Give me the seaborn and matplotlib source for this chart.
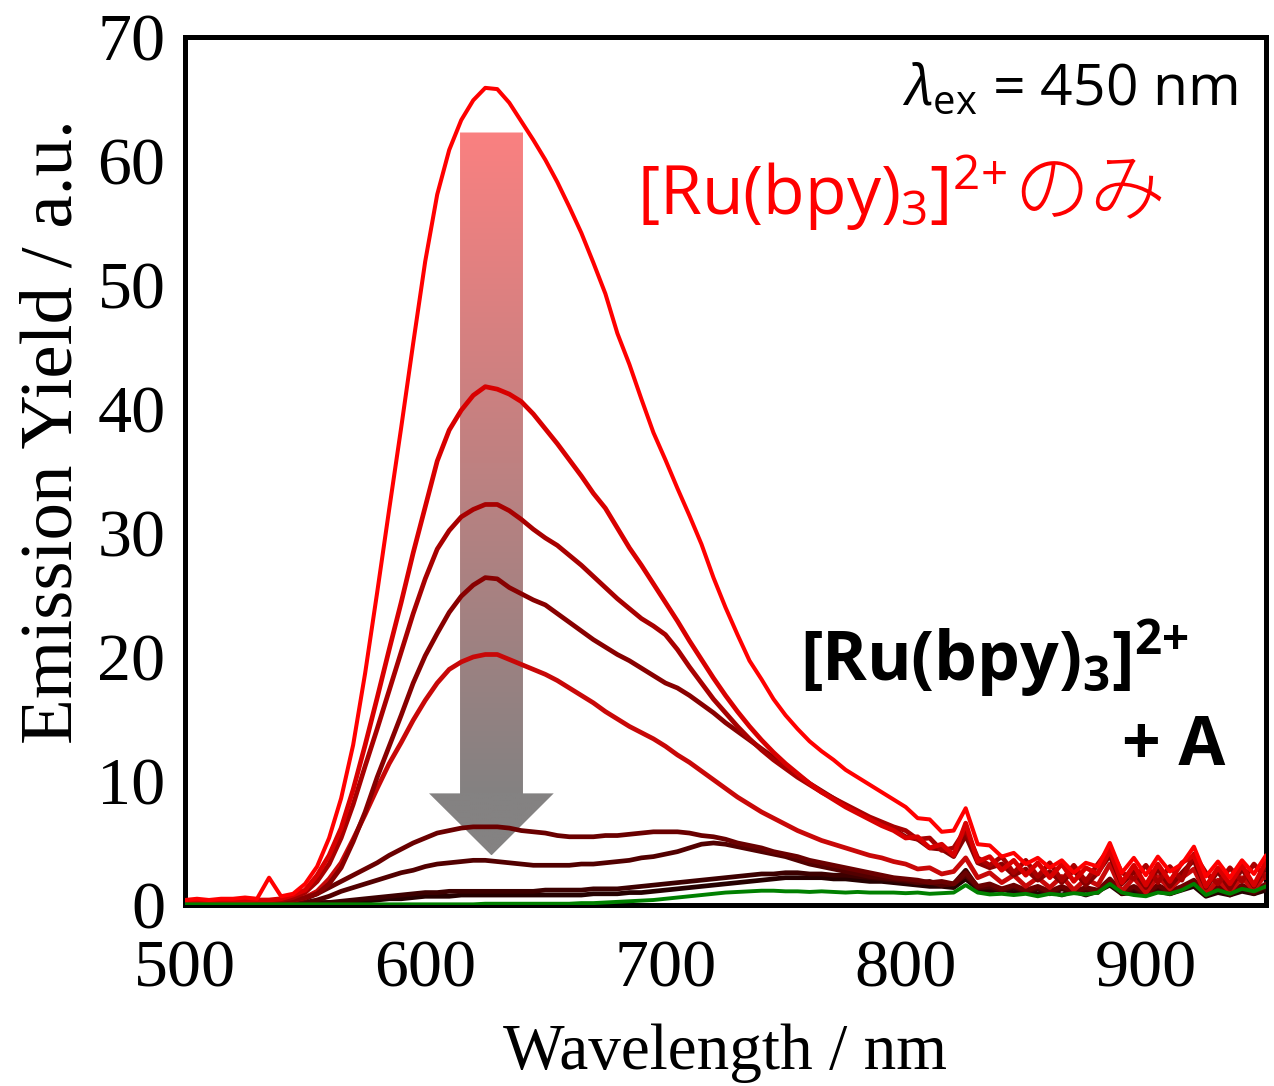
import numpy as np
import pandas as pd
import seaborn as sns
import matplotlib
matplotlib.use("Agg")
import matplotlib.pyplot as plt
from matplotlib.patches import Polygon
from matplotlib.ticker import MultipleLocator

# ---------------------------------------------------------------- data
# emission wavelength grid (nm), 5 nm steps
wavelength = list(range(500, 955, 5))

# [Ru(bpy)3]2+ alone
ru_only = [
    0.4, 0.5, 0.4, 0.5, 0.5, 0.6, 0.5, 2.2, 0.7, 0.9,
    1.7, 3.1, 5.4, 8.6, 12.9, 18.7, 25.2, 31.9, 38.5, 45.3,
    51.9, 57.3, 60.9, 63.3, 64.9, 65.9, 65.8, 64.7, 63.2, 61.7,
    60.1, 58.3, 56.3, 54.2, 51.8, 49.3, 46.1, 43.6, 40.8, 38.1,
    35.9, 33.6, 31.4, 29.1, 26.4, 24.0, 21.8, 19.7, 18.2, 16.6,
    15.3, 14.2, 13.2, 12.4, 11.7, 10.9, 10.3, 9.7, 9.1, 8.5,
    7.9, 7.0, 6.9, 5.9, 6.0, 7.8, 4.9, 4.8, 3.9, 4.2,
    3.3, 3.8, 3.0, 3.6, 2.6, 3.4, 3.1, 5.0, 2.6, 3.8,
    2.4, 3.9, 2.7, 3.3, 4.7, 2.3, 3.5, 2.2, 3.6, 2.5, 4.0,
]

# [Ru(bpy)3]2+ + A, increasing amounts of A
ru_a1 = [
    0.3, 0.3, 0.2, 0.3, 0.3, 0.3, 0.4, 0.4, 0.5, 0.8,
    1.2, 2.4, 4.0, 6.2, 9.3, 12.9, 16.7, 20.6, 24.4, 28.4,
    32.1, 35.8, 38.3, 39.9, 41.1, 41.8, 41.6, 41.2, 40.6, 39.6,
    38.4, 37.2, 35.9, 34.6, 33.2, 32.0, 30.4, 28.8, 27.4, 25.9,
    24.4, 22.9, 21.3, 19.8, 18.3, 16.9, 15.6, 14.4, 13.3, 12.3,
    11.4, 10.6, 9.8, 9.1, 8.5, 7.9, 7.4, 6.9, 6.4, 6.0,
    5.4, 5.5, 4.6, 4.9, 4.0, 6.6, 3.5, 3.9, 2.8, 3.6,
    2.4, 3.4, 2.2, 3.3, 1.9, 3.0, 2.5, 4.4, 1.8, 3.2,
    1.6, 3.3, 1.9, 3.4, 4.0, 1.5, 3.0, 1.7, 3.2, 1.6, 3.5,
]
ru_a2 = [
    0.2, 0.3, 0.2, 0.2, 0.3, 0.3, 0.3, 0.3, 0.4, 0.6,
    1.0, 1.9, 3.3, 5.4, 8.1, 11.2, 14.2, 17.3, 20.4, 23.5,
    26.3, 28.7, 30.2, 31.3, 31.9, 32.3, 32.3, 31.8, 31.1, 30.3,
    29.6, 29.0, 28.2, 27.4, 26.5, 25.6, 24.7, 23.9, 23.1, 22.5,
    21.8, 20.6, 19.2, 17.9, 16.6, 15.5, 14.4, 13.4, 12.5, 11.7,
    11.0, 10.3, 9.7, 9.1, 8.6, 8.1, 7.6, 7.1, 6.7, 6.3,
    6.0, 5.3, 5.4, 4.4, 4.6, 6.1, 3.8, 3.2, 3.9, 2.6,
    3.6, 2.3, 3.4, 2.0, 3.2, 1.9, 3.3, 4.6, 2.6, 2.1,
    3.2, 1.8, 3.1, 2.0, 4.1, 2.6, 1.7, 3.0, 1.9, 3.3, 2.2,
]
ru_a3 = [
    0.2, 0.2, 0.2, 0.2, 0.3, 0.2, 0.3, 0.3, 0.3, 0.4,
    0.6, 0.9, 1.7, 3.0, 5.1, 7.5, 10.3, 12.8, 15.3, 17.9,
    20.1, 21.9, 23.6, 24.9, 25.8, 26.4, 26.3, 25.6, 25.1, 24.6,
    24.2, 23.5, 22.8, 22.1, 21.4, 20.8, 20.2, 19.7, 19.1, 18.5,
    17.9, 17.5, 16.9, 16.2, 15.5, 14.7, 14.0, 13.3, 12.6, 11.9,
    11.2, 10.5, 9.8, 9.2, 8.6, 8.0, 7.5, 7.0, 6.5, 6.1,
    5.5, 5.3, 4.6, 4.5, 3.9, 5.6, 3.4, 3.0, 3.3, 2.4,
    2.9, 2.0, 2.7, 1.8, 2.8, 1.6, 2.6, 4.0, 1.7, 2.7,
    1.4, 2.9, 1.5, 2.6, 3.6, 1.4, 2.7, 1.3, 2.9, 1.5, 3.1,
]
ru_a4 = [
    0.3, 0.3, 0.2, 0.3, 0.3, 0.3, 0.3, 0.3, 0.3, 0.4,
    0.6, 1.1, 2.1, 3.4, 5.3, 7.3, 9.4, 11.4, 13.1, 14.9,
    16.5, 17.9, 19.0, 19.6, 20.0, 20.2, 20.2, 19.8, 19.4, 19.0,
    18.6, 18.1, 17.5, 16.9, 16.3, 15.6, 15.0, 14.4, 13.9, 13.4,
    12.8, 12.1, 11.5, 10.8, 10.1, 9.4, 8.7, 8.1, 7.5, 7.0,
    6.5, 6.0, 5.6, 5.2, 4.9, 4.6, 4.3, 4.0, 3.8, 3.5,
    3.3, 2.9, 3.0, 2.5, 2.7, 3.8, 2.2, 2.6, 1.8, 2.4,
    1.5, 2.2, 1.4, 2.3, 1.2, 2.1, 1.6, 3.3, 1.1, 2.2,
    1.0, 2.3, 1.3, 2.2, 2.9, 0.9, 2.0, 1.1, 2.2, 1.2, 2.5,
]
ru_a5 = [
    0.1, 0.1, 0.1, 0.1, 0.1, 0.1, 0.1, 0.1, 0.2, 0.3,
    0.5, 0.9, 1.4, 1.9, 2.4, 2.9, 3.4, 4.0, 4.5, 5.0,
    5.4, 5.8, 6.0, 6.2, 6.3, 6.3, 6.3, 6.2, 6.0, 5.9,
    5.8, 5.6, 5.5, 5.5, 5.5, 5.6, 5.6, 5.7, 5.8, 5.9,
    5.9, 5.9, 5.8, 5.6, 5.5, 5.3, 5.0, 4.8, 4.6, 4.3,
    4.1, 3.9, 3.6, 3.4, 3.2, 3.0, 2.8, 2.6, 2.4, 2.2,
    2.1, 2.0, 1.8, 1.9, 1.7, 2.6, 1.5, 1.7, 1.3, 1.6,
    1.2, 1.5, 1.1, 1.5, 1.1, 1.4, 1.2, 2.1, 1.1, 1.5,
    1.0, 1.6, 1.1, 1.5, 2.0, 1.0, 1.5, 1.0, 1.6, 1.1, 1.7,
]
ru_a6 = [
    0.1, 0.1, 0.1, 0.1, 0.1, 0.1, 0.1, 0.1, 0.1, 0.1,
    0.2, 0.4, 0.7, 1.1, 1.4, 1.7, 2.0, 2.3, 2.6, 2.8,
    3.1, 3.3, 3.4, 3.5, 3.6, 3.6, 3.5, 3.4, 3.3, 3.2,
    3.2, 3.2, 3.2, 3.3, 3.3, 3.4, 3.5, 3.6, 3.8, 3.9,
    4.1, 4.3, 4.6, 4.9, 5.0, 4.9, 4.7, 4.5, 4.3, 4.1,
    3.9, 3.6, 3.3, 3.1, 2.9, 2.7, 2.5, 2.3, 2.2, 2.1,
    2.0, 1.8, 1.9, 1.6, 1.7, 2.4, 1.4, 1.5, 1.2, 1.5,
    1.1, 1.4, 1.0, 1.4, 1.0, 1.3, 1.1, 2.0, 1.0, 1.4,
    0.9, 1.5, 1.0, 1.4, 1.9, 0.9, 1.4, 0.9, 1.5, 1.0, 1.6,
]
ru_a7 = [
    0.1, 0.1, 0.1, 0.1, 0.1, 0.1, 0.1, 0.1, 0.1, 0.1,
    0.1, 0.2, 0.2, 0.3, 0.4, 0.5, 0.6, 0.7, 0.8, 0.9,
    1.0, 1.0, 1.1, 1.1, 1.1, 1.1, 1.1, 1.1, 1.1, 1.1,
    1.2, 1.2, 1.2, 1.2, 1.3, 1.3, 1.3, 1.4, 1.5, 1.6,
    1.7, 1.8, 1.9, 2.0, 2.1, 2.2, 2.3, 2.4, 2.5, 2.5,
    2.6, 2.6, 2.5, 2.5, 2.4, 2.4, 2.3, 2.2, 2.1, 2.0,
    1.9, 1.8, 1.8, 1.6, 1.7, 2.8, 1.4, 1.4, 1.2, 1.4,
    1.1, 1.3, 0.9, 1.3, 1.0, 1.2, 1.0, 1.9, 0.9, 1.3,
    0.8, 1.4, 0.9, 1.3, 1.8, 0.8, 1.3, 0.8, 1.4, 0.9, 1.5,
]
ru_a8 = [
    0.1, 0.1, 0.1, 0.1, 0.1, 0.1, 0.1, 0.1, 0.1, 0.1,
    0.1, 0.1, 0.2, 0.2, 0.3, 0.3, 0.4, 0.5, 0.5, 0.6,
    0.7, 0.7, 0.7, 0.8, 0.8, 0.8, 0.8, 0.8, 0.8, 0.8,
    0.8, 0.8, 0.8, 0.8, 0.9, 0.9, 0.9, 1.0, 1.0, 1.1,
    1.2, 1.3, 1.4, 1.5, 1.6, 1.7, 1.8, 1.9, 2.0, 2.1,
    2.2, 2.2, 2.2, 2.2, 2.1, 2.1, 2.0, 1.9, 1.9, 1.8,
    1.7, 1.6, 1.5, 1.5, 1.4, 2.1, 1.3, 1.1, 1.3, 1.0,
    1.2, 0.9, 1.1, 0.8, 1.1, 0.8, 1.1, 1.6, 0.9, 1.0,
    0.8, 1.1, 0.9, 1.2, 1.5, 0.7, 1.0, 0.8, 1.1, 0.9, 1.2,
]

# A alone
a_only = [
    0.05, 0.05, 0.05, 0.05, 0.05, 0.05, 0.05, 0.05, 0.05, 0.05,
    0.05, 0.05, 0.05, 0.05, 0.05, 0.05, 0.05, 0.05, 0.05, 0.05,
    0.05, 0.05, 0.05, 0.05, 0.05, 0.1, 0.1, 0.1, 0.1, 0.1,
    0.1, 0.1, 0.1, 0.15, 0.15, 0.2, 0.25, 0.3, 0.35, 0.4,
    0.5, 0.6, 0.7, 0.8, 0.9, 1.0, 1.05, 1.1, 1.15, 1.15,
    1.1, 1.1, 1.05, 1.1, 1.05, 1.0, 1.05, 1.0, 1.0, 1.0,
    0.95, 1.0, 0.9, 0.95, 1.0, 1.6, 1.0, 0.85, 0.9, 0.8,
    0.9, 0.7, 0.9, 0.8, 0.95, 0.85, 1.0, 1.7, 1.0, 0.8,
    0.7, 1.0, 0.9, 1.2, 1.7, 0.8, 1.2, 0.9, 1.3, 1.1, 1.5,
]

# drawing order (back to front), colours and line widths
series_names = ["ru_a8", "ru_a7", "ru_a6", "ru_a5", "ru_a4",
                "ru_a3", "ru_a2", "ru_a1", "ru_only", "a_only"]
series_values = [ru_a8, ru_a7, ru_a6, ru_a5, ru_a4,
                 ru_a3, ru_a2, ru_a1, ru_only, a_only]
series_colors = ["#250000", "#3c0000", "#520000", "#6a0000", "#c80808",
                 "#880000", "#a80000", "#d80000", "#ff0000", "#008000"]
series_widths = [3.4, 3.4, 3.4, 3.4, 3.4, 3.4, 3.4, 3.4, 2.9, 2.8]

frames = []
for name, vals in zip(series_names, series_values):
    assert len(vals) == len(wavelength), name
    frames.append(pd.DataFrame({"wavelength": wavelength,
                                "emission": vals, "sample": name}))
spectra = pd.concat(frames, ignore_index=True)

# ---------------------------------------------------------------- style
sns.set_style("white")
plt.rcParams["font.family"] = ["Liberation Serif", "DejaVu Serif"]
plt.rcParams["text.color"] = "black"
plt.rcParams["axes.labelcolor"] = "black"
plt.rcParams["mathtext.fontset"] = "custom"
plt.rcParams["mathtext.rm"] = "Open Sans"
plt.rcParams["mathtext.it"] = "Open Sans:italic"
plt.rcParams["mathtext.bf"] = "Open Sans:bold"

fig = plt.figure(figsize=(12.74, 10.86), dpi=100)
ax = fig.add_axes([0.1452, 0.1667, 0.8485, 0.7992])

for name, color, lw in zip(series_names, series_colors, series_widths):
    sub = spectra[spectra["sample"] == name]
    sns.lineplot(data=sub, x="wavelength", y="emission", color=color,
                 linewidth=lw, ax=ax, zorder=3, errorbar=None)

# gradient arrow (light red -> grey) behind the spectra
arrow_verts = [(614.5, 62.3), (640.7, 62.3), (640.7, 9.0), (653.5, 9.0),
               (627.6, 4.0), (601.6, 9.0), (614.5, 9.0)]
arrow = Polygon(arrow_verts, closed=True, facecolor="none",
                edgecolor="none", transform=ax.transData)
ax.add_patch(arrow)
ys = np.linspace(62.3, 4.0, 400)
t = np.clip((62.3 - ys) / (62.3 - 9.0), 0, 1)[:, None]
top_rgb = np.array([250, 128, 128]) / 255
bot_rgb = np.array([132, 130, 130]) / 255
grad = (top_rgb * (1 - t) + bot_rgb * t)[:, None, :]
im = ax.imshow(grad, extent=(601.6, 653.5, 4.0, 62.3), origin="upper",
               aspect="auto", interpolation="bilinear", zorder=1)
im.set_clip_path(arrow)

ax.set_xlim(500, 950)
ax.set_ylim(0, 70)

ax.xaxis.set_major_locator(MultipleLocator(100))
ax.xaxis.set_minor_locator(MultipleLocator(50))
ax.yaxis.set_major_locator(MultipleLocator(10))
ax.yaxis.set_minor_locator(MultipleLocator(5))
ax.tick_params(which="both", direction="in", top=False, right=False,
               width=3, colors="black")
ax.tick_params(which="major", length=15, labelsize=49)
ax.tick_params(which="minor", length=8)
ax.tick_params(axis="x", which="major", pad=25)
ax.tick_params(axis="y", which="major", pad=14)
for sp in ax.spines.values():
    sp.set_visible(True)
    sp.set_linewidth(3.6)
    sp.set_color("black")

ax.set_xlabel("Wavelength / nm", fontsize=47, color="black")
ax.set_ylabel("Emission Yield / a.u.", fontsize=54, color="black")
ax.xaxis.set_label_coords(0.5, -0.137)
ax.yaxis.set_label_coords(-0.09, 0.545)

# annotations
ax.text(0.974, 0.9217, r"$\lambda_{\mathrm{ex}}$ = 450 nm",
        transform=ax.transAxes, ha="right", va="baseline",
        fontsize=41, fontfamily="Open Sans", color="black")
red_label = ax.text(0.418, 0.795, r"$\mathrm{[Ru(bpy)_3]^{2{+}}}$",
                    transform=ax.transAxes, ha="left", va="baseline",
                    fontsize=49, color="#ff0000")
ax.annotate("のみ", xy=(1, 0.795), xycoords=(red_label, "axes fraction"),
            xytext=(5, 0), textcoords="offset points", ha="left",
            va="baseline", fontsize=55, color="#ff0000",
            fontweight="light", fontfamily=["Noto Sans CJK JP"])
ax.text(0.569, 0.259, r"$\mathbf{[Ru(bpy)_3]^{2{+}}}$",
        transform=ax.transAxes, ha="left", va="baseline",
        fontsize=49, color="black")
ax.text(0.962, 0.161, "+ A", transform=ax.transAxes, ha="right",
        va="baseline", fontsize=49, fontweight="bold",
        fontfamily="Open Sans", color="black")

fig.savefig("out.png", dpi=100)
